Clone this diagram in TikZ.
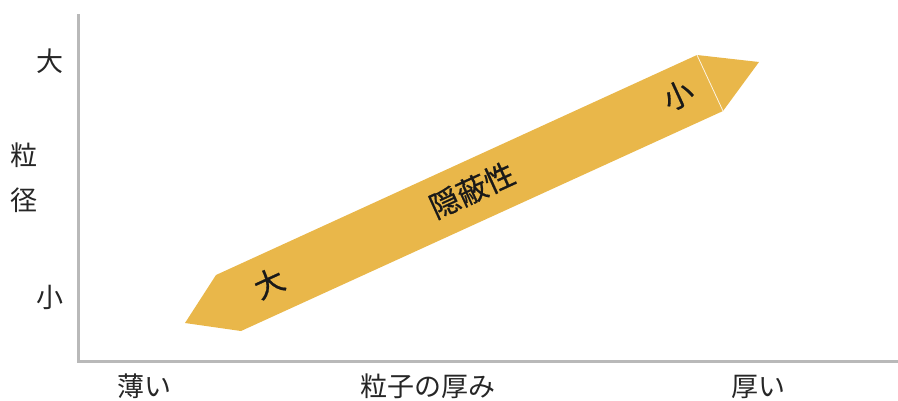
\documentclass[tikz,border=0pt]{standalone}
\usepackage{fontspec}
\newfontfamily\jp{Noto Sans CJK JP}
\newfontfamily\jpb[FakeBold=0.6]{Noto Sans CJK JP}
\definecolor{band}{RGB}{233,183,74}
\definecolor{axisgray}{RGB}{185,185,185}
\begin{document}
\begin{tikzpicture}[x=1pt,y=-1pt,
  axislabel/.style={font=\jp\fontsize{27}{27}\selectfont, text=black!85, inner sep=0pt},
  bandlabel/.style={font=\jpb\fontsize{30}{30}\selectfont, text=black!90, inner sep=0pt, rotate=24.6},
  axisline/.style={draw=axisgray, line width=2.6pt}]
\useasboundingbox (0,0) rectangle (898,400);
% axes
\coordinate (ytop) at (78.5,14);
\coordinate (orig) at (78.5,361.5);
\coordinate (xend) at (898,361.5);
\draw[axisline] (ytop) -- (orig) -- (xend);
% band arrow
\coordinate (lt) at (185,323);
\coordinate (lu) at (216,275);
\coordinate (ld) at (241,331);
\coordinate (ru) at (697,55);
\coordinate (rt) at (759,62);
\coordinate (rd) at (723,111);
\fill[band] (lt) -- (lu) -- (ru) -- (rt) -- (rd) -- (ld) -- cycle;
\draw[white!85!band, line width=0.8pt] (ru) -- (rd);
% band labels
\node[bandlabel] (bl1) at (269,283) {大};
\node[bandlabel] (bl2) at (472,190) {隠蔽性};
\node[bandlabel] (bl3) at (678,95) {小};
% axis labels
\node[axislabel] (ybig) at (50,61) {大};
\node[axislabel] (y1) at (24,155) {粒};
\node[axislabel] (y2) at (24,200) {径};
\node[axislabel] (ysmall) at (50,297) {小};
\node[axislabel] (xthin) at (144,386) {薄い};
\node[axislabel] (xmid) at (428,386) {粒子の厚み};
\node[axislabel] (xthick) at (758,387) {厚い};
\end{tikzpicture}
\end{document}
